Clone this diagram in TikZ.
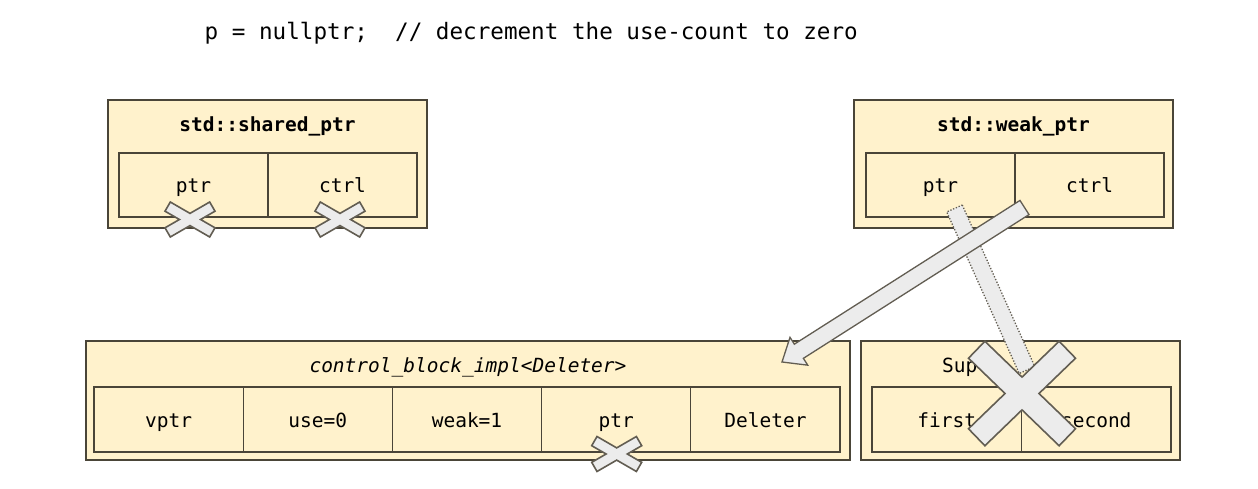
\documentclass[tikz,border=0pt]{standalone}
\usepackage{fontspec}
\setmonofont{DejaVu Sans Mono}
\usetikzlibrary{calc}
\definecolor{boxfill}{HTML}{FFF2CC}
\definecolor{boxline}{HTML}{4A4538}
\definecolor{xfill}{HTML}{ECECEC}
\definecolor{xline}{HTML}{625D52}
\tikzset{
  outerbox/.style={draw=boxline, line width=1.3pt, fill=boxfill, inner sep=0pt},
  cell/.style={draw=boxline, line width=1.2pt, fill=boxfill, inner sep=0pt,
    text height=15.5pt, text depth=0pt, font=\ttfamily\fontsize{19.5}{23}\selectfont},
  titletext/.style={inner sep=0pt, anchor=base, font=\ttfamily\bfseries\fontsize{19.5}{23}\selectfont},
  ititle/.style={inner sep=0pt, anchor=base, font=\ttfamily\itshape\fontsize{19.5}{23}\selectfont},
  plaintitle/.style={inner sep=0pt, anchor=base west, font=\ttfamily\fontsize{19.5}{23}\selectfont},
  codetext/.style={inner sep=0pt, anchor=base west, font=\ttfamily\fontsize{22.6}{26}\selectfont},
  xmark/.style={draw=xline, line width=1.6pt, fill=xfill},
  band/.style={draw=xline, dash pattern=on 1.3pt off 1.7pt, line width=1.3pt, fill=xfill},
  widearrow/.style={draw=xline, line width=1.3pt, fill=xfill, line join=miter}
}
\newcommand\xcross[6]{%
  \coordinate (#1) at (#2,#3);
  \draw[xmark] ($(#1)+({#5/sin(#6)},0)$)
   -- ($(#1)+({#4*cos(#6)+#5*sin(#6)},{#4*sin(#6)-#5*cos(#6)})$)
   -- ($(#1)+({#4*cos(#6)-#5*sin(#6)},{#4*sin(#6)+#5*cos(#6)})$)
   -- ($(#1)+(0,{#5/cos(#6)})$)
   -- ($(#1)+({-#4*cos(#6)+#5*sin(#6)},{#4*sin(#6)+#5*cos(#6)})$)
   -- ($(#1)+({-#4*cos(#6)-#5*sin(#6)},{#4*sin(#6)-#5*cos(#6)})$)
   -- ($(#1)+({-#5/sin(#6)},0)$)
   -- ($(#1)+({-#4*cos(#6)-#5*sin(#6)},{-#4*sin(#6)+#5*cos(#6)})$)
   -- ($(#1)+({-#4*cos(#6)+#5*sin(#6)},{-#4*sin(#6)-#5*cos(#6)})$)
   -- ($(#1)+(0,{-#5/cos(#6)})$)
   -- ($(#1)+({#4*cos(#6)-#5*sin(#6)},{-#4*sin(#6)-#5*cos(#6)})$)
   -- ($(#1)+({#4*cos(#6)+#5*sin(#6)},{-#4*sin(#6)+#5*cos(#6)})$)
   -- cycle;}
\begin{document}
\begin{tikzpicture}[x=1pt,y=-1pt]
\useasboundingbox[fill=white] (0,0) rectangle (1258,489);

% code line
\node[codetext] (code) at (204.5,40) {p = nullptr;\ \ // decrement the use-count to zero};

% std::shared_ptr
\node[outerbox, minimum width=319pt, minimum height=128pt] (sp) at (267.5,164) {};
\node[titletext] (spt) at (267.5,132) {std::shared\_ptr};
\node[cell, minimum width=149pt, minimum height=64pt] (sp1) at (193.5,185) {ptr};
\node[cell, minimum width=149pt, minimum height=64pt] (sp2) at (342.5,185) {ctrl};

% std::weak_ptr
\node[outerbox, minimum width=319pt, minimum height=128pt] (wk) at (1013.5,164) {};
\node[titletext] (wkt) at (1013.5,132) {std::weak\_ptr};
\node[cell, minimum width=149pt, minimum height=64pt] (wk1) at (940.5,185) {ptr};
\node[cell, minimum width=149pt, minimum height=64pt] (wk2) at (1089.5,185) {ctrl};

% control block
\node[outerbox, minimum width=764pt, minimum height=119pt] (cb) at (468,400.5) {};
\node[ititle] (cbt) at (468,372) {control\_block\_impl<Deleter>};
\node[cell, minimum width=149.2pt, minimum height=65pt] (cb1) at (168.6,419.5) {vptr};
\node[cell, minimum width=149.2pt, minimum height=65pt] (cb2) at (317.8,419.5) {use=0};
\node[cell, minimum width=149.2pt, minimum height=65pt] (cb3) at (467,419.5) {weak=1};
\node[cell, minimum width=149.2pt, minimum height=65pt] (cb4) at (616.2,419.5) {ptr};
\node[cell, minimum width=149.2pt, minimum height=65pt] (cb5) at (765.4,419.5) {Deleter};

% super box
\node[outerbox, minimum width=319pt, minimum height=119pt] (su) at (1020.5,400.5) {};
\node[plaintitle] (sut) at (942,372) {Sup};
\node[cell, minimum width=149.5pt, minimum height=65pt] (su1) at (946.75,419.5) {first};
\node[cell, minimum width=149.5pt, minimum height=65pt] (su2) at (1096.25,419.5) {second};

% small crosses
\xcross{xa}{190}{219.5}{25.8}{5.3}{30}
\xcross{xb}{340}{219.5}{25.8}{5.3}{30}
\xcross{xc}{616.7}{454}{25.8}{5.3}{30}

% dotted band from weak ptr
\coordinate (bA) at (954.5,208.5);
\coordinate (bB) at (1027,370);
\draw[band] ($(bA)!8.5pt!90:(bB)$) -- ($(bB)!8.5pt!-90:(bA)$) -- ($(bB)!8.5pt!90:(bA)$) -- ($(bA)!8.5pt!-90:(bB)$) -- cycle;

% wide arrow from weak ctrl to control block
\coordinate (aT) at (1024.5,207.5);
\coordinate (aP) at (782,362);
\coordinate (aB) at ($(aP)!20pt!(aT)$);
\draw[widearrow] ($(aT)!8.4pt!90:(aP)$) -- ($(aB)!8.4pt!90:(aP)$) -- ($(aB)!16.5pt!90:(aP)$)
  -- (aP) -- ($(aB)!16.5pt!-90:(aP)$) -- ($(aB)!8.4pt!-90:(aP)$) -- ($(aT)!8.4pt!-90:(aP)$) -- cycle;

% big cross
\xcross{xd}{1022}{393.5}{63}{11.8}{44}
\end{tikzpicture}
\end{document}
